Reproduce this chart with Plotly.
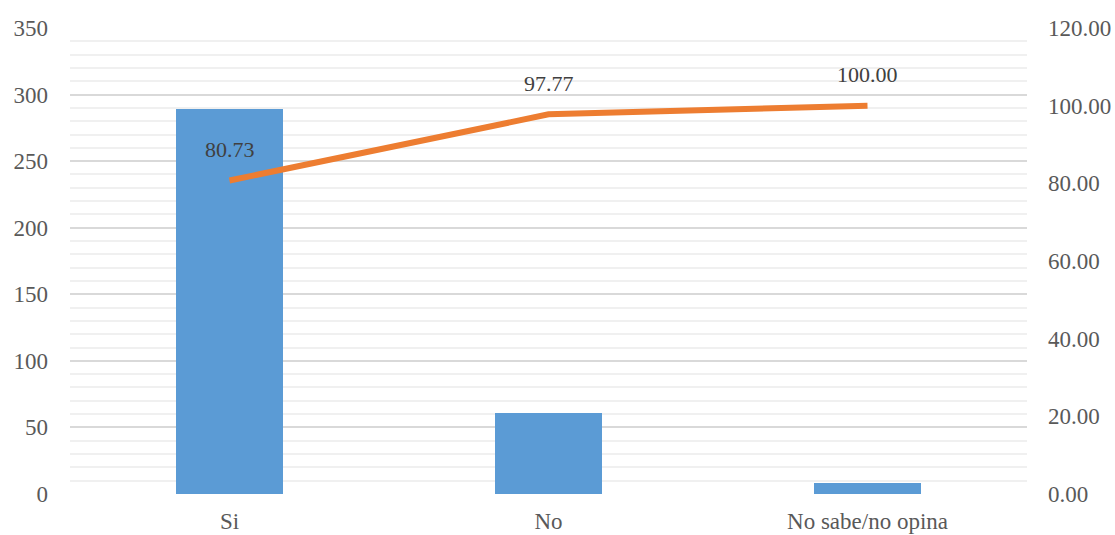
import plotly.graph_objects as go

categories = ["Si", "No", "No sabe/no opina"]
counts = [289, 61, 8]
cumulative_pct = [80.73, 97.77, 100.00]
left_ticks = [0, 50, 100, 150, 200, 250, 300, 350]
right_ticks = [0, 20, 40, 60, 80, 100, 120]

FONT = "Liberation Serif, Times New Roman, serif"

fig = go.Figure()
fig.add_trace(go.Bar(
    x=categories, y=counts, marker=dict(color="#5B9BD5", line=dict(width=0)),
    width=0.333, yaxis="y", showlegend=False,
))
fig.add_trace(go.Scatter(
    x=categories, y=cumulative_pct, mode="lines", yaxis="y2",
    line=dict(color="#ED7D31", width=6), showlegend=False,
))
for c, v in zip(categories, cumulative_pct):
    fig.add_annotation(x=c, y=v, yref="y2", text=f"{v:.2f}", showarrow=False,
                       yshift=31, font=dict(family=FONT, size=22, color="#404040"))

fig.update_layout(
    width=1115, height=535,
    margin=dict(l=70, r=88, t=28, b=41),
    paper_bgcolor="white", plot_bgcolor="white",
    font=dict(family=FONT, size=23, color="#595959"),
    bargap=0,
    xaxis=dict(showgrid=False, showline=False, ticks="", zeroline=False, automargin=False,
               ticklabelstandoff=11,
               tickfont=dict(size=23, color="#595959")),
    yaxis=dict(range=[0, 350], tickvals=left_ticks, showgrid=True, gridcolor="#d9d9d9",
               gridwidth=1.5, zeroline=False, showline=False, ticks="", automargin=False,
               ticklabelstandoff=21,
               minor=dict(dtick=10, showgrid=True, gridcolor="#f0f0f0", gridwidth=1.5),
               tickfont=dict(size=23, color="#595959")),
    yaxis2=dict(range=[0, 120], tickvals=right_ticks, overlaying="y", side="right",
                showgrid=False, zeroline=False, showline=False, ticks="", automargin=False,
                ticklabelstandoff=20, tickformat=".2f",
                tickfont=dict(size=23, color="#595959")),
)
fig.write_html("out.html", config={"displayModeBar": False},
               post_script="document.body.style.margin='0';")
